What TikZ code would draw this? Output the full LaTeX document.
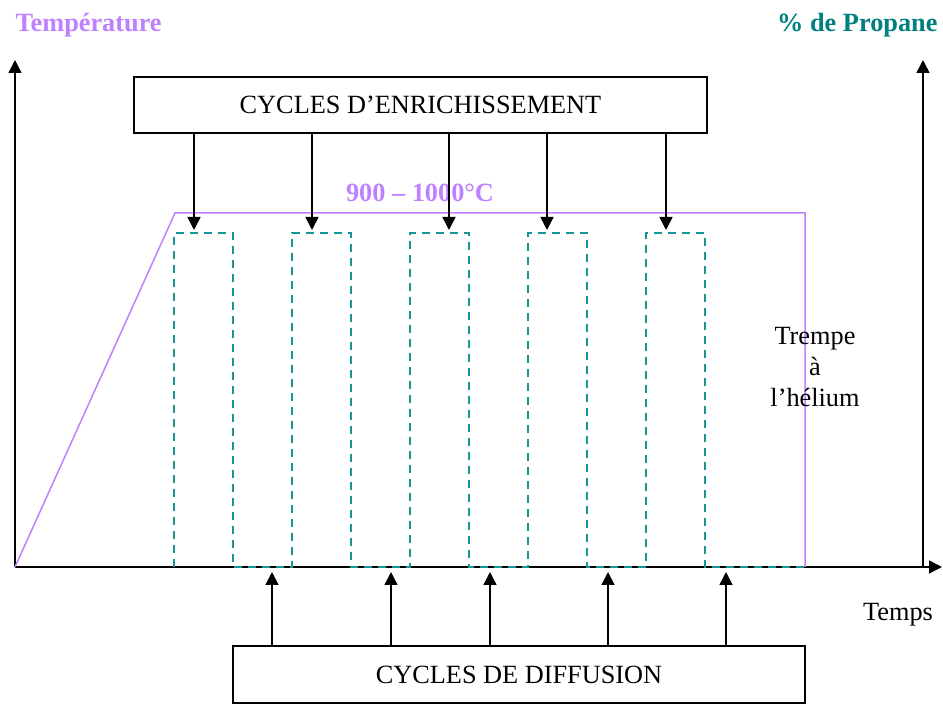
\documentclass[tikz,border=0pt]{standalone}
\usepackage{fontspec}
\setmainfont{Liberation Serif}
\usetikzlibrary{arrows.meta}
\usetikzlibrary{positioning}
\definecolor{tempcol}{RGB}{191,128,255}
\definecolor{propcol}{RGB}{0,128,128}
\definecolor{dashcol}{RGB}{24,150,150}
\tikzset{
    axis/.style = {line width=1.5pt,-{Triangle[length=13pt,width=13pt]}},
    feed/.style = {line width=1.5pt,-{Triangle[length=13pt,width=13pt]}},
    cyclebox/.style = {draw,line width=1.5pt,inner sep=0,minimum height=56pt},
    templine/.style = {tempcol,line width=1.5pt},
    propline/.style = {dashcol,line width=1.6pt,dash pattern=on 8pt off 6pt},
    big/.style = {font=\fontsize{26.3}{31}\selectfont}
}

\begin{document}
\begin{tikzpicture}[x=1pt,y=1pt]
        \newcommand*\hsep{118}
        \newcommand*\ptop{334}
        \useasboundingbox (-15,-137) rectangle (928,567);
        % Axes
        \path (0,0) coordinate (O)
            (0,507) coordinate (tempend)
            (908,507) coordinate (propend)
            (927,0) coordinate (timeend)
            (908,0) coordinate (propbase)
        ;
        \draw[axis] (O) to (tempend);
        \draw[axis] (propbase) to (propend);
        \draw[axis] (O) to (timeend);
        % Axis labels
        \node[big,font=\fontsize{26.3}{31}\selectfont\bfseries,text=tempcol,anchor=west]
            (templabel) at (-3,542) {Température};
        \node[big,font=\fontsize{26.3}{31}\selectfont\bfseries,text=propcol,anchor=east]
            (proplabel) at (926,542) {\% de Propane};
        \node[big] (timelabel) at (883,-48) {Temps};
        % Temperature
        \path (160,354) coordinate (t1)
            (790,354) coordinate (t2)
            (790,0) coordinate (t3)
        ;
        \draw[templine] (O) -- (t1) -- (t2) -- (t3);
        \node[big,font=\fontsize{26.3}{31}\selectfont\bfseries,text=tempcol]
            (plateau) at (405,374) {900 – 1000°C};
        \node[big,align=center] (quench) at (800,200) {Trempe\\à\\l’hélium};
        % Propane
        \path (159,0) coordinate (p0);
        \draw[propline] (p0)
            \foreach \i in {1,...,5} {
                -- ++(0,\ptop) -- ++(59,0) -- ++(0,-\ptop) -- ++(\hsep-59,0)
            } -- (t3);
        % Cycles
        \node[cyclebox,big,minimum width=573pt] (enrich) at (405.5,462)
            {CYCLES D’ENRICHISSEMENT};
        \node[cyclebox,big,minimum width=572pt,minimum height=57pt] (diffus) at (504,-107.5)
            {CYCLES DE DIFFUSION};
        \foreach \n/\x in {e1/179,e2/297,e3/434,e4/532,e5/651}
            \path (\x,337) coordinate (\n);
        \foreach \n/\x in {d1/257,d2/376,d3/475,d4/593,d5/711}
            \path (\x,-5) coordinate (\n);
        \foreach \n in {e1,e2,e3,e4,e5}
            \draw[feed] (enrich.south -| \n) to (\n);
        \foreach \n in {d1,d2,d3,d4,d5}
            \draw[feed] (diffus.north -| \n) to (\n);
    \end{tikzpicture}
\end{document}
